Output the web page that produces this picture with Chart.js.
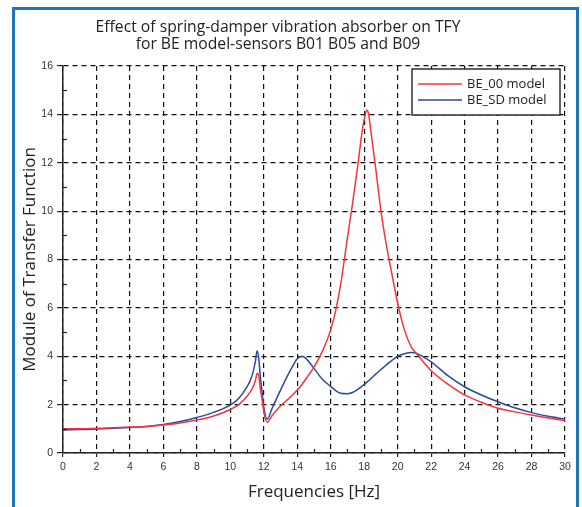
<!DOCTYPE html>
<html>
<head>
<meta charset="utf-8">
<script src="https://cdn.jsdelivr.net/npm/chart.js@4.4.0/dist/chart.umd.min.js"></script>
<style>
html, body { margin: 0; padding: 0; background: #fff; }
</style>
</head>
<body>
<canvas id="tf-chart" width="582" height="507"></canvas>
<script>
const titleLines = ["Effect of spring-damper vibration absorber on TFY", "for BE model-sensors B01 B05 and B09"];
const xTitle = "Frequencies [Hz]";
const yTitle = "Module of Transfer Function";
const seriesNames = ["BE_00 model", "BE_SD model"];
const seriesColors = ["#f2363b", "#2b4a9f"];

const freqHz = [0, 1, 2, 3, 4, 5, 6, 7, 8, 9, 10, 10.5, 11, 11.3, 11.5, 11.6, 11.7, 11.8, 11.9, 12.0,
    12.2, 12.5, 13, 13.5, 14, 14.3, 14.6, 15, 15.5, 16, 16.3, 16.6, 17, 17.3, 17.6, 17.9, 18.05, 18.15,
    18.25, 18.4, 18.7, 19, 19.3, 19.6, 20, 20.4, 20.8, 21.2, 22, 23, 24, 25, 26, 27, 28, 29, 30];

const be00 = [1.0, 1.0, 1.02, 1.04, 1.07, 1.1, 1.16, 1.24, 1.36, 1.53, 1.8, 2.0, 2.35, 2.65, 3.0, 3.3, 3.2, 2.6, 2.2, 1.7,
    1.27, 1.55, 1.95, 2.25, 2.6, 2.85, 3.15, 3.55, 4.2, 5.1, 5.9, 7.0, 8.9, 10.3, 11.8, 13.4, 13.95, 14.17,
    14.05, 13.3, 11.7, 10.0, 8.7, 7.6, 6.2, 5.1, 4.4, 4.05, 3.4, 2.85, 2.4, 2.1, 1.85, 1.7, 1.57, 1.45, 1.34];

const beSd = [0.95, 0.97, 0.99, 1.02, 1.05, 1.1, 1.18, 1.3, 1.47, 1.68, 1.98, 2.25, 2.74, 3.2, 3.8, 4.23, 3.9, 3.1, 2.5, 1.9,
    1.4, 1.85, 2.6, 3.3, 3.9, 4.0, 3.85, 3.5, 3.05, 2.75, 2.58, 2.47, 2.45, 2.5, 2.62, 2.78, 2.86, 2.92,
    2.98, 3.07, 3.27, 3.45, 3.63, 3.8, 4.0, 4.1, 4.15, 4.1, 3.77, 3.2, 2.74, 2.4, 2.12, 1.87, 1.67, 1.52, 1.4];

const textFont = "'Open Sans', 'DejaVu Sans', sans-serif";
const tickFont = "'Liberation Sans', Arial, sans-serif";

function toPoints(values) {
    return freqHz.map((f, i) => ({ x: f, y: values[i] }));
}

function isEven(ctx) {
    return ctx.tick && Math.round(ctx.tick.value) % 2 === 0;
}

const decorations = {
    id: "decorations",
    beforeDraw(chart) {
        const ctx = chart.ctx;
        ctx.save();
        ctx.fillStyle = "#fff";
        ctx.fillRect(0, 0, chart.width, chart.height);
        ctx.restore();
    },
    afterDraw(chart) {
        const ctx = chart.ctx;
        const xs = chart.scales.x;
        const ys = chart.scales.y;
        const area = chart.chartArea;

        // minor ticks pointing inward
        ctx.save();
        ctx.strokeStyle = "#222";
        ctx.lineWidth = 1.2;
        for (let v = 1; v < xs.max; v += 2) {
            const px = Math.round(xs.getPixelForValue(v)) + 0.5;
            ctx.beginPath();
            ctx.moveTo(px, area.bottom);
            ctx.lineTo(px, area.bottom - 4);
            ctx.stroke();
        }
        for (let v = 1; v < ys.max; v += 2) {
            const py = Math.round(ys.getPixelForValue(v)) + 0.5;
            ctx.beginPath();
            ctx.moveTo(area.left, py);
            ctx.lineTo(area.left + 4, py);
            ctx.stroke();
        }
        ctx.restore();

        // blue frame
        ctx.save();
        ctx.strokeStyle = "#1b76bd";
        ctx.lineWidth = 3;
        ctx.beginPath();
        ctx.moveTo(13.5, chart.height + 5);
        ctx.lineTo(13.5, 8.5);
        ctx.lineTo(577.5, 8.5);
        ctx.lineTo(577.5, chart.height + 5);
        ctx.stroke();
        ctx.restore();

        // title
        ctx.save();
        ctx.fillStyle = "#222";
        ctx.font = "15.7px " + textFont;
        ctx.textAlign = "center";
        ctx.textBaseline = "middle";
        ctx.fillText(titleLines[0], 278, 28);
        ctx.fillText(titleLines[1], 278, 45);
        ctx.restore();

        // legend inside plot
        const boxW = 148, boxH = 46;
        const bx = area.right - 5 - boxW;
        const by = area.top + 3;
        ctx.save();
        ctx.fillStyle = "#fff";
        ctx.fillRect(bx, by, boxW, boxH);
        ctx.strokeStyle = "#111";
        ctx.lineWidth = 1.3;
        ctx.strokeRect(bx, by, boxW, boxH);
        ctx.font = "13px " + textFont;
        ctx.textBaseline = "middle";
        chart.data.datasets.forEach((ds, i) => {
            const ly = by + 15 + i * 16;
            ctx.strokeStyle = ds.borderColor;
            ctx.lineWidth = 1.5;
            ctx.beginPath();
            ctx.moveTo(bx + 6, ly);
            ctx.lineTo(bx + 50, ly);
            ctx.stroke();
            ctx.fillStyle = "#222";
            ctx.fillText(ds.label, bx + 55, ly);
        });
        ctx.restore();
    }
};

new Chart(document.querySelector("#tf-chart"), {
    type: "line",
    data: {
        datasets: [{
            label: seriesNames[0],
            data: toPoints(be00),
            borderColor: seriesColors[0],
            borderWidth: 1.5,
            pointRadius: 0,
            cubicInterpolationMode: "monotone"
        }, {
            label: seriesNames[1],
            data: toPoints(beSd),
            borderColor: seriesColors[1],
            borderWidth: 1.5,
            pointRadius: 0,
            cubicInterpolationMode: "monotone"
        }]
    },
    options: {
        responsive: false,
        animation: false,
        layout: { padding: { left: 0, top: 66, right: 17, bottom: 0 } },
        plugins: {
            legend: { display: false },
            title: { display: false },
            tooltip: { enabled: false }
        },
        scales: {
            x: {
                type: "linear",
                min: 0,
                max: 30,
                afterFit(scale) { scale.height = 54; },
                ticks: {
                    stepSize: 1,
                    autoSkip: false,
                    maxRotation: 0,
                    padding: 4,
                    color: "#333",
                    font: { family: tickFont, size: 10.5 },
                    callback: v => (v % 2 === 0 ? v : "")
                },
                grid: {
                    color: ctx => (isEven(ctx) ? "#111" : "transparent"),
                    lineWidth: 1.2,
                    tickLength: 4,
                    tickColor: ctx => (isEven(ctx) ? "#222" : "transparent"),
                    tickWidth: 1.2
                },
                border: { display: true, color: "#222", width: 1.5, dash: [5, 4] },
                title: {
                    display: true,
                    text: xTitle,
                    color: "#222",
                    font: { family: textFont, size: 17 },
                    padding: { top: 0, bottom: 5 }
                }
            },
            y: {
                type: "linear",
                min: 0,
                max: 16,
                afterFit(scale) { scale.width = 63; },
                ticks: {
                    stepSize: 1,
                    autoSkip: false,
                    padding: 4,
                    color: "#333",
                    font: { family: tickFont, size: 10.5 },
                    callback: v => (v % 2 === 0 ? v : "")
                },
                grid: {
                    color: ctx => (isEven(ctx) ? "#111" : "transparent"),
                    lineWidth: 1.2,
                    tickLength: 6,
                    tickColor: ctx => (isEven(ctx) ? "#222" : "transparent"),
                    tickWidth: 1.2
                },
                border: { display: true, color: "#222", width: 1.5, dash: [5, 4] },
                title: {
                    display: true,
                    text: yTitle,
                    color: "#222",
                    font: { family: textFont, size: 17 },
                    padding: { top: 20, bottom: 0 }
                }
            }
        }
    },
    plugins: [decorations]
});
</script>
</body>
</html>
